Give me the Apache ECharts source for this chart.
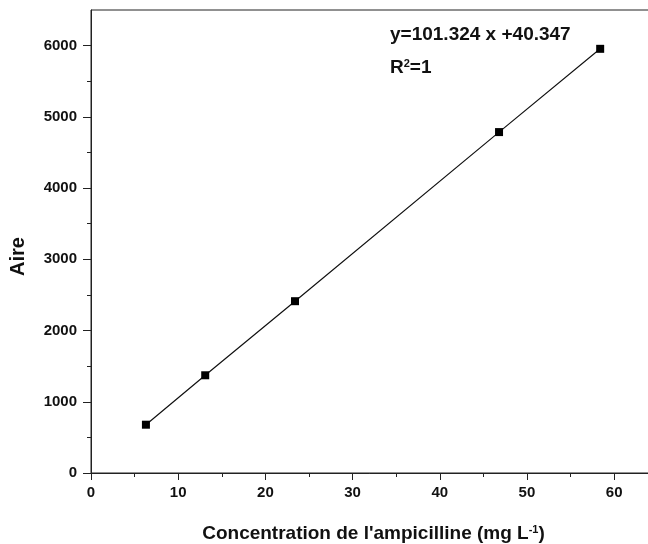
<!DOCTYPE html>
<html>
<head>
<meta charset="utf-8">
<script src="https://cdn.jsdelivr.net/npm/echarts@6/dist/echarts.min.js"></script>
<style>
  html, body { margin: 0; padding: 0; background: #fff; }
  #chart { width: 648px; height: 544px; }
</style>
</head>
<body>
<div id="chart"></div>
<script>
// concentration (mg/L) and peak area
var concentration = [6.3, 13.1, 23.4, 46.8, 58.4];
var aire = [678, 1372, 2412, 4786, 5955];

var xTicks = [0, 10, 20, 30, 40, 50, 60];
var xMinorTicks = [5, 15, 25, 35, 45, 55];
var yTicks = [0, 1000, 2000, 3000, 4000, 5000, 6000];
var yMinorTicks = [500, 1500, 2500, 3500, 4500, 5500];

var equationText = 'y=101.324 x +40.347';

var font = 'Liberation Sans, Arial, sans-serif';
var axisColor = '#222';

var myChart = echarts.init(document.getElementById('chart'));

var points = [];
for (var i = 0; i < concentration.length; i++) {
  points.push([concentration[i], aire[i]]);
}

function plain(v) { return String(v); }

var option = {
  animation: false,
  backgroundColor: '#fff',
  grid: {
    left: 91,
    top: 10,
    right: -1,
    bottom: 71,
    outerBoundsMode: 'none',
    containLabel: false,
    show: true,
    borderColor: axisColor,
    borderWidth: 1,
    backgroundColor: 'transparent'
  },
  xAxis: [
    {
      type: 'value',
      position: 'bottom',
      min: 0,
      max: 64,
      splitLine: { show: false },
      axisLine: { show: true, onZero: false, lineStyle: { color: axisColor, width: 1 } },
      axisTick: { show: true, inside: false, length: 7, customValues: xTicks, lineStyle: { color: axisColor } },
      axisLabel: {
        customValues: xTicks,
        formatter: plain,
        margin: 12,
        color: '#111',
        fontFamily: font,
        fontWeight: 'bold',
        fontSize: 15
      },
      name: "Concentration de l'ampicilline (mg L{sup|-1})",
      nameLocation: 'middle',
      nameGap: 51,
      nameTextStyle: {
        color: '#111',
        fontFamily: font,
        fontWeight: 'bold',
        fontSize: 19,
        padding: [0, 0, 0, 7],
        rich: {
          sup: { fontFamily: font, fontWeight: 'bold', fontSize: 11, color: '#111', verticalAlign: 'top', padding: [0, 0, 9, 0] }
        }
      }
    },
    {
      type: 'value',
      position: 'bottom',
      min: 0,
      max: 64,
      splitLine: { show: false },
      axisLine: { show: false },
      axisTick: { show: true, length: 4, customValues: xMinorTicks, lineStyle: { color: axisColor } },
      axisLabel: { show: false }
    }
  ],
  yAxis: [
    {
      type: 'value',
      position: 'left',
      min: 0,
      max: 6500,
      splitLine: { show: false },
      axisLine: { show: true, onZero: false, lineStyle: { color: axisColor, width: 1 } },
      axisTick: { show: true, inside: false, length: 8, customValues: yTicks, lineStyle: { color: axisColor } },
      axisLabel: {
        customValues: yTicks,
        formatter: plain,
        margin: 14,
        color: '#111',
        fontFamily: font,
        fontWeight: 'bold',
        fontSize: 15
      },
      name: 'Aire',
      nameLocation: 'middle',
      nameGap: 63,
      nameTextStyle: {
        color: '#111',
        fontFamily: font,
        fontWeight: 'bold',
        fontSize: 20,
        padding: [0, 30, 0, 0]
      }
    },
    {
      type: 'value',
      position: 'left',
      min: 0,
      max: 6500,
      splitLine: { show: false },
      axisLine: { show: false },
      axisTick: { show: true, length: 4, customValues: yMinorTicks, lineStyle: { color: axisColor } },
      axisLabel: { show: false }
    }
  ],
  graphic: [
    {
      type: 'text',
      left: 390,
      top: 25,
      style: {
        text: equationText,
        fontFamily: font,
        fontWeight: 'bold',
        fontSize: 19,
        fill: '#111'
      }
    },
    {
      type: 'text',
      left: 390,
      top: 58,
      style: {
        text: 'R{sup|2}=1',
        fontFamily: font,
        fontWeight: 'bold',
        fontSize: 19,
        fill: '#111',
        rich: {
          sup: { fontFamily: font, fontWeight: 'bold', fontSize: 11, fill: '#111', verticalAlign: 'top', padding: [0, 0, 9, 0] }
        }
      }
    }
  ],
  series: [
    {
      type: 'line',
      xAxisIndex: 0,
      yAxisIndex: 0,
      data: points,
      symbol: 'rect',
      symbolSize: 8,
      showAllSymbol: true,
      itemStyle: { color: '#000' },
      lineStyle: { color: '#111', width: 1.2 }
    }
  ]
};

myChart.setOption(option);
</script>
</body>
</html>
